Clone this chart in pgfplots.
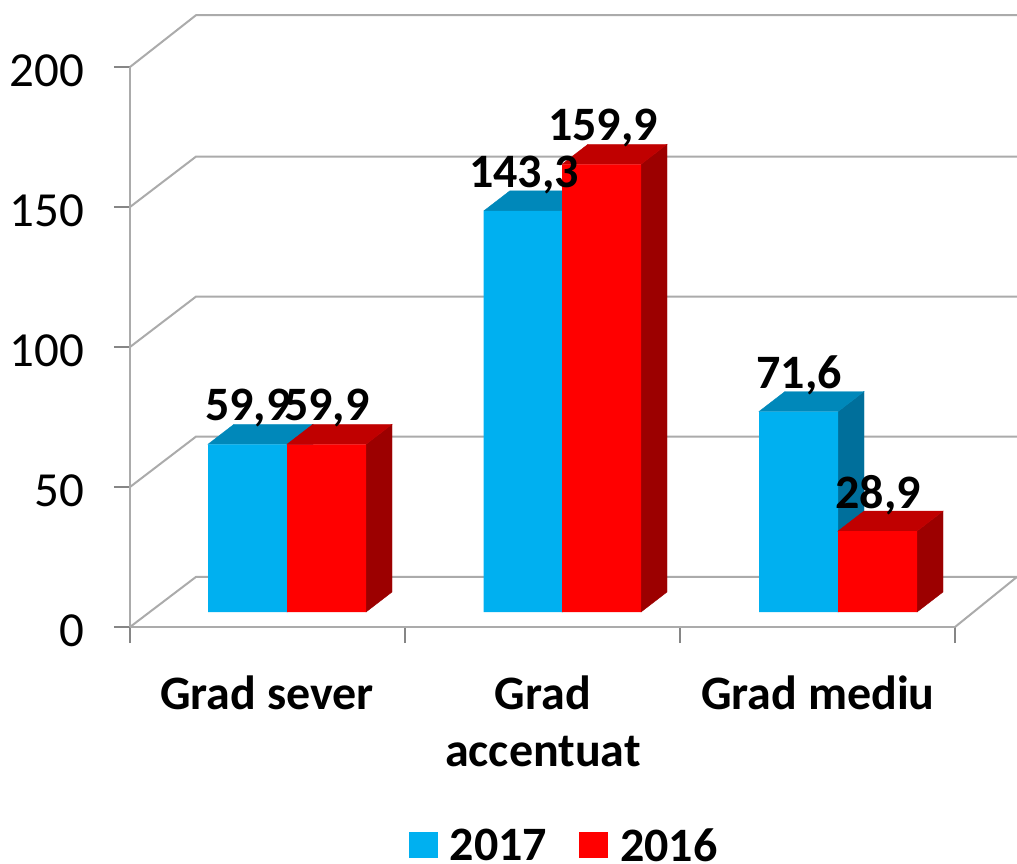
\documentclass[border=0pt]{standalone}
\usepackage{fontspec}
\setmainfont{Carlito}
\usepackage{pgfplots}
\pgfplotsset{compat=1.18}
\definecolor{wall}{HTML}{ABABAB}
\definecolor{tickc}{HTML}{868686}
\definecolor{blueF}{HTML}{00B0F0}
\definecolor{blueT}{HTML}{0088BA}
\definecolor{blueS}{HTML}{006F9B}
\definecolor{redF}{HTML}{FF0000}
\definecolor{redT}{HTML}{C00000}
\definecolor{redS}{HTML}{9C0000}
\begin{document}
\begin{tikzpicture}
\path[use as bounding box] (-130pt,-237pt) rectangle (887pt,627pt);
\begin{axis}[
  at={(0pt,0pt)}, anchor=south west,
  scale only axis, width=825pt, height=560pt,
  xmin=130, xmax=955, ymin=0, ymax=200, clip=false,
  axis x line*=bottom, axis y line*=left,
  axis line style={color=wall, line width=2.4pt},
  tick align=outside, major tick length=16pt,
  tick style={color=tickc, line width=1.4pt},
  ytick={0,50,100,150,200},
  yticklabel style={font=\fontsize{49}{56}\selectfont, xshift=-26pt, yshift=-4pt},
  /pgf/number format/assume math mode=true,
  xtick={130,405,680,955}, xticklabels={,,,},
  extra x ticks={267,543,818},
  extra x tick labels={Grad sever,{Grad\\accentuat},Grad mediu},
  extra x tick style={major tick length=0pt, tick style={draw=none},
    xticklabel style={font=\fontsize{48}{57}\selectfont\bfseries, align=center, anchor=north, yshift=-45pt}},
]
\addplot[wall, line width=2pt, no marks] coordinates {(130,0) (196,17.9) (1017,17.9)};
\addplot[wall, line width=2pt, no marks] coordinates {(955,0) (1017,17.9)};
\addplot[wall, line width=2pt, no marks] coordinates {(130,50) (196,68) (1017,68)};
\addplot[wall, line width=2pt, no marks] coordinates {(130,100) (196,118) (1017,118)};
\addplot[wall, line width=2pt, no marks] coordinates {(130,150) (196,168) (1017,168)};
\addplot[wall, line width=2pt, no marks] coordinates {(130,200) (196,218.5) (1017,218.5)};
\end{axis}
\begin{axis}[
  at={(0pt,15pt)}, anchor=south west,
  scale only axis, width=825pt, height=560pt,
  xmin=130, xmax=955, ymin=0, ymax=200, clip=false,
  hide axis,
  legend columns=2,
  legend style={at={(434pt,-233pt)}, anchor=center, draw=none, fill=none,
    font=\fontsize{48}{52}\selectfont\bfseries,
    nodes={text depth=0pt},
    /tikz/every odd column/.append style={column sep=10pt},
    /tikz/every even column/.append style={column sep=30pt}},
  legend image code/.code={\fill[#1] (0pt,-13pt) rectangle (29pt,13pt);},
]
% 2017: side and top faces
\addplot[blueS, fill=blueS, forget plot] coordinates {(287,0) (313,7.14) (313,67.04) (287,59.9)} --cycle;
\addplot[blueT, fill=blueT, forget plot] coordinates {(208,59.9) (234,67.04) (313,67.04) (287,59.9)} --cycle;
\addplot[blueS, fill=blueS, forget plot] coordinates {(562,0) (588,7.14) (588,150.44) (562,143.3)} --cycle;
\addplot[blueT, fill=blueT, forget plot] coordinates {(484,143.3) (510,150.44) (588,150.44) (562,143.3)} --cycle;
\addplot[blueS, fill=blueS, forget plot] coordinates {(838,0) (864,7.14) (864,78.74) (838,71.6)} --cycle;
\addplot[blueT, fill=blueT, forget plot] coordinates {(759,71.6) (785,78.74) (864,78.74) (838,71.6)} --cycle;
% 2017: front faces
\addplot[ybar, bar width=79pt, bar shift=0pt, draw=none, fill=blueF] coordinates {(247.5,59.9) (523,143.3) (798.5,71.6)};
\addlegendentry{2017}
% 2016: side and top faces
\addplot[redS, fill=redS, forget plot] coordinates {(366,0) (392,7.14) (392,67.04) (366,59.9)} --cycle;
\addplot[redT, fill=redT, forget plot] coordinates {(287,59.9) (313,67.04) (392,67.04) (366,59.9)} --cycle;
\addplot[redS, fill=redS, forget plot] coordinates {(641,0) (667,7.14) (667,167.04) (641,159.9)} --cycle;
\addplot[redT, fill=redT, forget plot] coordinates {(562,159.9) (588,167.04) (667,167.04) (641,159.9)} --cycle;
\addplot[redS, fill=redS, forget plot] coordinates {(917,0) (943,7.14) (943,36.04) (917,28.9)} --cycle;
\addplot[redT, fill=redT, forget plot] coordinates {(838,28.9) (864,36.04) (943,36.04) (917,28.9)} --cycle;
% 2016: front faces
\addplot[ybar, bar width=79pt, bar shift=0pt, draw=none, fill=redF] coordinates {(326.5,59.9) (601.5,159.9) (877.5,28.9)};
\addlegendentry{2016}
% data labels
\addplot[draw=none, no marks, forget plot, nodes near coords, point meta=y,
  nodes near coords style={anchor=center, yshift=36pt, font=\fontsize{48}{52}\selectfont\bfseries, text=black,
    /pgf/number format/.cd, fixed, fixed zerofill, precision=1, use comma, assume math mode=true}]
  coordinates {(248,59.9) (327,59.9) (524,143.3) (603,159.9) (799,71.6) (878,28.9)};
\end{axis}
\end{tikzpicture}
\end{document}
